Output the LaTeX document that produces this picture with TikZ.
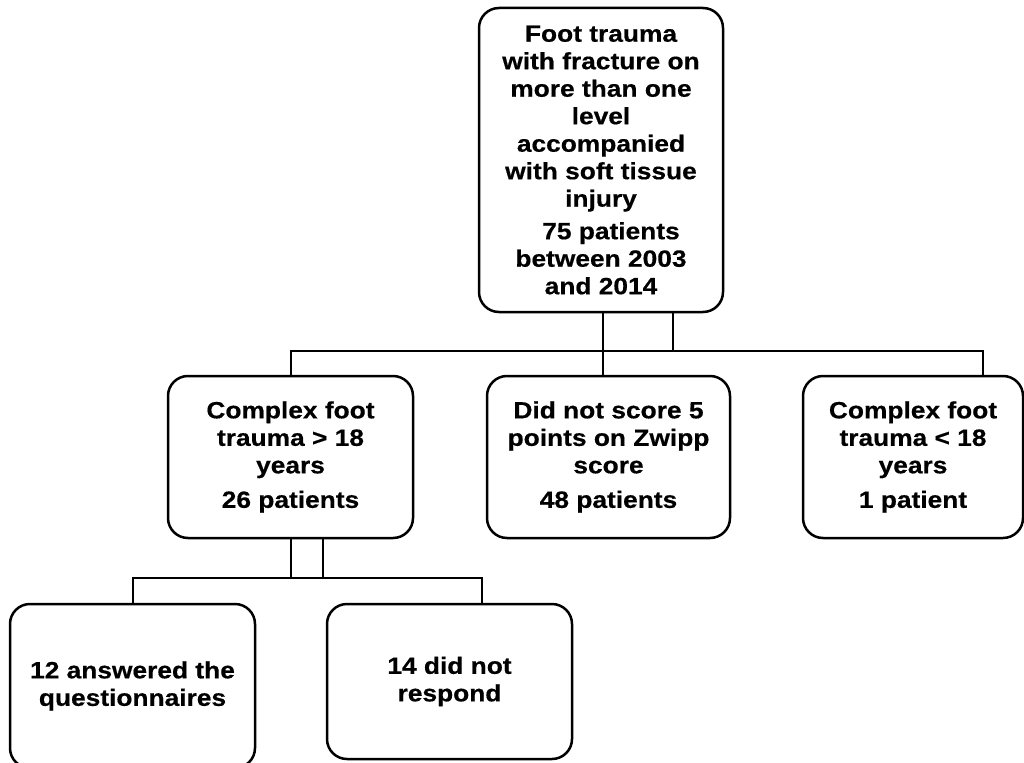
\documentclass[tikz,border=0pt]{standalone}
\usepackage{fontspec}
\newfontfamily\boxfont{Liberation Sans Bold}[FakeStretch=1.12, FakeBold=0.5]
\begin{document}
\begin{tikzpicture}[x=1pt,y=-1pt,
  flowbox/.style={draw, line width=2.5pt, rounded corners=20pt, inner sep=0pt,
    align=center, font=\boxfont\fontsize{23.5}{27.5}\selectfont},
  conn/.style={line width=2.5pt}]
\useasboundingbox (0,0) rectangle (1024,762);
\node[flowbox, minimum width=244pt, minimum height=304pt] (top) at (601,160)
  {Foot trauma\\with fracture on\\more than one\\level\\accompanied\\with soft tissue\\injury\\[5pt]\hspace*{20pt}75 patients\\between 2003\\and 2014};
\node[flowbox, minimum width=245pt, minimum height=162pt] (lm) at (290.5,457)
  {Complex foot\\trauma > 18\\years\\[7pt]26 patients};
\node[flowbox, minimum width=243pt, minimum height=162pt] (mid) at (608.5,457)
  {Did not score 5\\points on Zwipp\\score\\[7pt]48 patients};
\node[flowbox, minimum width=220pt, minimum height=162pt] (rt) at (913,457)
  {Complex foot\\trauma < 18\\years\\[7pt]1 patient};
\node[flowbox, minimum width=245pt, minimum height=164pt] (ql) at (132.5,686)
  {12 answered the\\questionnaires};
\node[flowbox, minimum width=245pt, minimum height=155pt] (qr) at (449.5,681.5)
  {14 did not\\respond};
\coordinate (j1) at (603,351);
\coordinate (j2) at (673,351);
\coordinate (jl) at (291,351);
\coordinate (jr) at (983,351);
\coordinate (k1) at (291,578);
\coordinate (k2) at (323,578);
\coordinate (kl) at (133,578);
\coordinate (kr) at (482,578);
\draw[conn] (top.south -| j1) -- (mid.north -| j1);
\draw[conn] (top.south -| j2) -- (j2);
\draw[conn] (lm.north -| jl) -- (jl) -- (jr) -- (rt.north -| jr);
\draw[conn] (lm.south -| k1) -- (k1);
\draw[conn] (lm.south -| k2) -- (k2);
\draw[conn] (ql.north -| kl) -- (kl) -- (kr) -- (qr.north -| kr);
\end{tikzpicture}
\end{document}
